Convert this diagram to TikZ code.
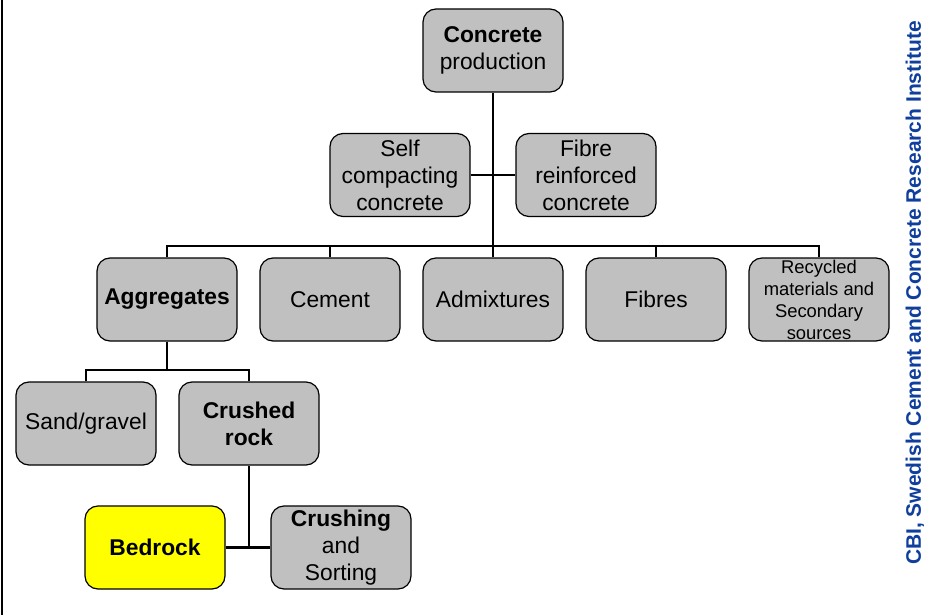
\documentclass[tikz,border=0pt]{standalone}
\usepackage{fontspec}
\setmainfont{Liberation Sans}
\definecolor{boxgray}{HTML}{C0C0C0}
\definecolor{rockyellow}{HTML}{FFFF00}
\definecolor{cbiblue}{HTML}{0F3E9C}

\begin{document}
\begin{tikzpicture}[x=0.5pt, y=-0.5pt,
    part/.style={draw=black, line width=0.6pt, fill=boxgray, rounded corners=6.5pt,
        minimum width=70pt, minimum height=41.5pt, inner sep=0pt, align=center,
        font=\fontsize{11.4}{13.5}\selectfont},
    link/.style={line width=1.4pt}]

\useasboundingbox (0,0) rectangle (948,615);

% ---- Frame line on the left ----
\draw[line width=1.4pt] (2,0) -- (2,615);

% ---- Top: concrete and its kinds ----
\node[part] (conc) at (493,50.5) {\textbf{Concrete}\\production};
\node[part] (scc) at (400,175) {Self\\compacting\\concrete};
\node[part] (frc) at (586,175) {Fibre\\reinforced\\concrete};

% ---- Constituents ----
\node[part] (agg) at (167,299.5) {\textbf{Aggregates}};
\node[part] (cem) at (330,299.5) {Cement};
\node[part] (adm) at (493,299.5) {Admixtures};
\node[part] (fib) at (656,299.5) {Fibres};
\node[part, font=\fontsize{9.2}{11}\selectfont] (rec) at (819,299.5)
    {Recycled\\materials and\\Secondary\\sources};

% ---- Aggregate types ----
\node[part] (sand) at (86,423.5) {Sand/gravel};
\node[part] (crock) at (249,423.5) {\textbf{Crushed}\\\textbf{rock}};

% ---- Crushed rock production ----
\node[part, fill=rockyellow] (bed) at (155,547.5) {\textbf{Bedrock}};
\node[part] (crush) at (341,547.5) {\textbf{Crushing}\\and\\Sorting};

% ---- Connectors ----
\coordinate (bar) at (493,246);
\draw[link] (conc.south) -- (adm.north);
\draw[link] (scc.east) -- (frc.west);
\draw[link] (agg.north) |- (bar) -| (rec.north);
\draw[link] (cem.north) -- (cem.north |- bar);
\draw[link] (fib.north) -- (fib.north |- bar);

\coordinate (aggbar) at (167,370);
\draw[link] (agg.south) -- (aggbar);
\draw[link] (sand.north) |- (aggbar) -| (crock.north);

\coordinate (rockjoin) at (249,547.5);
\draw[link] (crock.south) -- (rockjoin);
\draw[link] (bed.east) -- (crush.west);

% Side caption
\node[rotate=90, text=cbiblue, font=\fontsize{10.5}{12}\selectfont\bfseries] (cbi) at (915,293)
    {CBI, Swedish Cement and Concrete Research Institute};

\end{tikzpicture}
\end{document}
